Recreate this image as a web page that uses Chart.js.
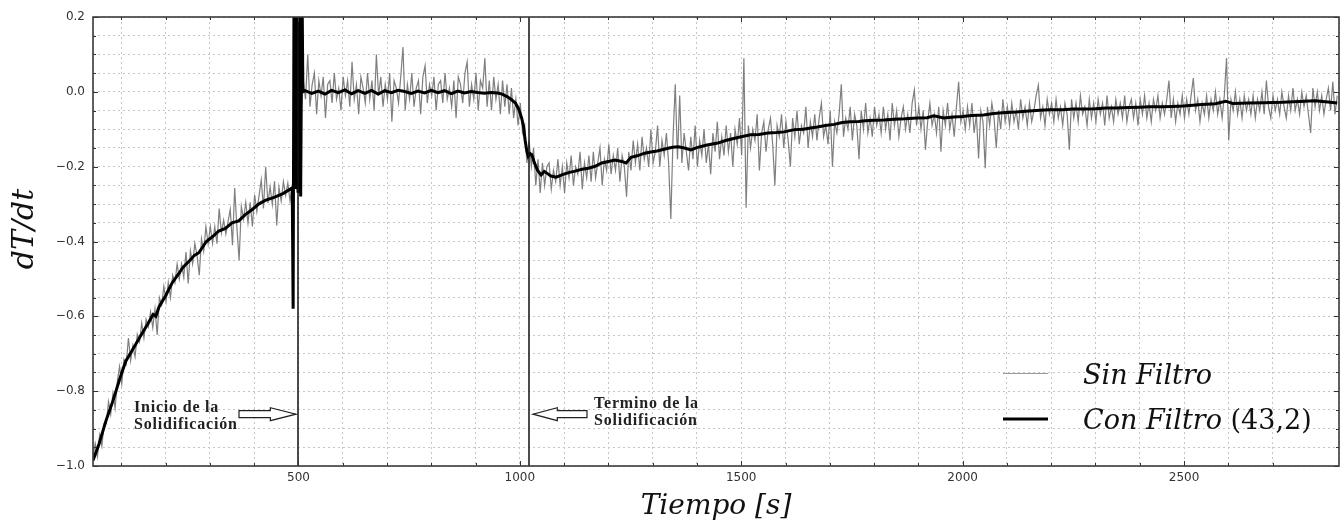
<!DOCTYPE html>
<html>
<head>
<meta charset="utf-8">
<title>dT/dt - Solidificación</title>
<script src="https://cdn.jsdelivr.net/npm/chart.js@4.4.1/dist/chart.umd.min.js"></script>
<style>
  html, body { margin: 0; padding: 0; background: #fff; }
  #grafico { display: block; }
</style>
</head>
<body>
<canvas id="grafico" width="1344" height="524"></canvas>
<script>
//--Datos-----------------------------------------------
var PASO = 5; // s entre muestras de la señal sin filtro

// Sin filtro: enfriamiento del liquido (t = 36 s ...)
var sinFiltroLiquido = [
  -0.975, -0.94, -0.975, -0.917, -0.947, -0.887, -0.887, -0.828, -0.862, -0.806,
  -0.845, -0.774, -0.734, -0.78, -0.715, -0.728, -0.658, -0.718, -0.678, -0.708,
  -0.648, -0.668, -0.618, -0.658, -0.608, -0.628, -0.588, -0.63, -0.58, -0.65,
  -0.55, -0.57, -0.52, -0.56, -0.51, -0.55, -0.49, -0.51, -0.46, -0.50,
  -0.46, -0.495, -0.428, -0.512, -0.425, -0.46, -0.405, -0.438, -0.49, -0.393,
  -0.426, -0.36, -0.406, -0.36, -0.405, -0.36, -0.406, -0.312, -0.377, -0.343,
  -0.38, -0.347, -0.314, -0.41, -0.257, -0.363, -0.45, -0.306, -0.34, -0.295,
  -0.35, -0.295, -0.36, -0.275, -0.32, -0.278, -0.235, -0.312, -0.20, -0.297,
  -0.254, -0.301, -0.239, -0.357, -0.255, -0.292, -0.24, -0.277, -0.244, -0.292,
  -0.248
];
// Sin filtro: meseta de solidificacion (t = 491 s ...)
var sinFiltroMeseta = [
  -0.24, -0.25,
  0.01, -0.05, 0.03, -0.02, 0.10, -0.04, 0.02, 0.05, -0.06, 0.03,
  -0.01, 0.04, -0.07, 0.02, 0.03, -0.03, 0.05, -0.02, 0.01, -0.05,
  0.04, -0.01, 0.03, -0.04, 0.08, -0.02, 0.02, -0.06, 0.04, 0.01,
  -0.03, 0.05, -0.02, 0.03, -0.05, 0.10, -0.01, 0.04, -0.04, 0.02,
  -0.02, 0.05, -0.08, 0.03, 0.01, -0.03, 0.04, 0.12, -0.05, 0.02,
  -0.02, 0.05, -0.04, 0.01, 0.03, -0.06, 0.04, 0.07, -0.03, 0.02,
  -0.01, 0.04, -0.05, 0.02, 0.03, -0.03, 0.05, -0.02, 0.01, -0.04,
  0.03, -0.07, 0.04, 0.02, -0.03, 0.05, 0.08, -0.04, 0.02, -0.02,
  0.05, -0.05, 0.03, 0.01, 0.09, -0.04, 0.03, -0.05, 0.04, -0.02,
  0.02, -0.06
];
// Sin filtro: caida al final de la solidificacion (t = 961 s ...)
var sinFiltroCaida = [
  0.03, -0.04, 0.02, -0.06, 0.01, -0.07, -0.02, -0.09, -0.03, -0.11,
  -0.09, -0.19, -0.13, -0.20, -0.15, -0.25, -0.18, -0.27, -0.19, -0.25,
  -0.20
];
// Sin filtro: enfriamiento del solido (t = 1066 s ...)
var sinFiltroSolido = [
  -0.19, -0.26, -0.21, -0.24, -0.18, -0.25, -0.20, -0.27, -0.19, -0.23,
  -0.17, -0.25, -0.20, -0.22, -0.16, -0.26, -0.19, -0.23, -0.17, -0.24,
  -0.16, -0.23, -0.19, -0.15, -0.25, -0.18, -0.21, -0.14, -0.22, -0.17,
  -0.21, -0.15, -0.24, -0.17, -0.20, -0.28, -0.16, -0.21, -0.13, -0.19,
  -0.14, -0.21, -0.12, -0.18, -0.15, -0.20, -0.10, -0.19, -0.16, -0.09,
  -0.20, -0.13, -0.17, -0.11, -0.19, -0.34, -0.12, 0.02, -0.18, -0.01,
  -0.19, -0.11, -0.16, -0.21, -0.12, -0.18, -0.09, -0.20, -0.13, -0.17,
  -0.10, -0.19, -0.14, -0.22, -0.11, -0.16, -0.08, -0.18, -0.12, -0.17,
  -0.09, -0.16, -0.11, -0.20, -0.10, -0.14, -0.07, -0.17, 0.09, -0.31,
  -0.09, -0.15, -0.10, -0.13, -0.06, -0.21, -0.11, -0.08, -0.16, -0.10,
  -0.07, -0.14, -0.25, -0.09, -0.12, -0.06, -0.15, -0.08, -0.13, -0.20,
  -0.07, -0.12, -0.05, -0.14, -0.09, -0.11, -0.04, -0.15, -0.08, -0.12,
  -0.06, -0.13, -0.07, -0.03, -0.12, -0.09, -0.14, -0.05, -0.20, -0.08,
  -0.11, -0.06, 0.02, -0.12, -0.07, -0.10, -0.04, -0.13, -0.06, -0.09,
  -0.18, -0.05, -0.10, -0.03, -0.11, -0.07, -0.12, -0.04, -0.09, -0.06,
  -0.11, -0.04, -0.10, -0.06, -0.13, -0.03, -0.09, -0.05, -0.12, -0.07,
  -0.04, -0.10, -0.06, -0.11, -0.03, 0.005, -0.09
];
// Sin filtro: cola (t = 1901 s ...)
var sinFiltroCola = [
  -0.04, -0.10, -0.05, -0.155, -0.08, -0.03, -0.09, -0.06, -0.11, -0.04,
  -0.16, -0.05, -0.09, -0.03, -0.10, -0.06, -0.12, -0.04, 0.027, -0.08,
  -0.05, -0.10, -0.04, -0.09, -0.03, -0.11, -0.06, -0.178, -0.05, -0.08,
  -0.204, -0.04, -0.09, -0.03, -0.07, -0.15, -0.05, -0.10, -0.02, -0.08,
  -0.04, -0.09, -0.03, -0.08, -0.05, -0.10, -0.02, -0.07, -0.04, -0.09,
  -0.03, -0.08, -0.05, -0.01, 0.018, -0.07, -0.04, -0.09, -0.02, -0.06,
  -0.03, -0.08, -0.02, -0.07, -0.04, -0.09, -0.03, -0.06, -0.155, -0.02,
  -0.07, -0.03, -0.08, -0.01, -0.06, -0.04, -0.09, -0.02, -0.07, -0.03,
  -0.08, -0.02, -0.06, -0.03, -0.09, -0.01, -0.07, -0.04, -0.08, -0.02,
  -0.06, -0.03, -0.07, -0.01, -0.08, -0.04, -0.02, -0.07, -0.03, -0.09,
  -0.02, -0.06, -0.01, -0.07, -0.03, -0.08, -0.02, -0.05, -0.01, -0.07,
  -0.03, -0.06, -0.02, 0.03, -0.07, -0.02, -0.08, -0.03, -0.06, -0.01,
  -0.07, -0.02, -0.06, -0.01, 0.037, -0.05, -0.02, -0.08, -0.03, -0.06,
  -0.01, -0.07, -0.02, -0.05, 0.00, -0.06, -0.02, -0.07, -0.01, 0.09,
  -0.13, -0.02, -0.05, 0.00, -0.06, -0.02, -0.07, -0.01, -0.05, -0.02,
  -0.06, -0.01, -0.07, -0.02, -0.05, 0.00, -0.06, 0.03, -0.04, -0.07,
  -0.01, -0.05, -0.02, -0.06, 0.00, -0.04, -0.07, -0.01, -0.05, 0.01,
  -0.05, -0.02, -0.06, 0.00, -0.04, -0.01, -0.06, -0.11, 0.01, -0.04,
  0.00, -0.05, -0.01, -0.06, -0.02, 0.01, -0.05, 0.027, -0.06, -0.01
];
var iniciosTramos = [36, 491, 961, 1066, 1901];

// Con filtro (43,2): pares [t, dT/dt]
var conFiltro = [
  [36, -0.985], [50, -0.94], [65, -0.88], [81, -0.826], [97, -0.765], [110, -0.72],
  [125, -0.69], [142, -0.655], [160, -0.62], [172, -0.595], [178, -0.60], [185, -0.575],
  [200, -0.545], [215, -0.51], [230, -0.485], [240, -0.468], [255, -0.45], [265, -0.437],
  [275, -0.43], [292, -0.40], [310, -0.383], [320, -0.372], [335, -0.365], [350, -0.35],
  [365, -0.345], [380, -0.328], [395, -0.315], [410, -0.30], [425, -0.29], [445, -0.282],
  [465, -0.272], [484, -0.258],
  [486, -0.26], [488, -0.58], [490, 0.3], [493, -0.26], [496, 0.3], [499, -0.27],
  [502, 0.3], [505, -0.28], [508, 0.3], [510, 0.0],
  [515, 0.003], [530, -0.004], [545, 0.002], [560, -0.006], [575, 0.004], [590, -0.002],
  [605, 0.005], [620, -0.005], [635, 0.003], [650, -0.004], [665, 0.004], [680, -0.006],
  [695, 0.003], [710, -0.002], [725, 0.004], [740, 0.001], [755, -0.004], [770, 0.002],
  [785, -0.003], [800, 0.004], [815, -0.002], [830, 0.003], [845, -0.005], [860, 0.002],
  [875, -0.003], [890, 0.001], [905, -0.002], [920, -0.004], [935, -0.002], [950, -0.003],
  [960, -0.006], [970, -0.012], [980, -0.02], [990, -0.03], [997, -0.045], [1004, -0.07],
  [1008, -0.09], [1012, -0.13], [1016, -0.16], [1019, -0.172], [1023, -0.165], [1027, -0.168],
  [1033, -0.19], [1040, -0.21], [1048, -0.222], [1055, -0.213], [1062, -0.218], [1070, -0.225],
  [1082, -0.228], [1095, -0.222], [1110, -0.216], [1125, -0.212], [1140, -0.207], [1155, -0.204],
  [1170, -0.199], [1185, -0.19], [1200, -0.186], [1215, -0.182], [1230, -0.186], [1240, -0.19],
  [1251, -0.175], [1265, -0.171], [1282, -0.164], [1296, -0.161], [1310, -0.158], [1330, -0.152],
  [1345, -0.148], [1357, -0.147], [1372, -0.15], [1386, -0.155], [1400, -0.149], [1420, -0.143],
  [1447, -0.137], [1465, -0.13], [1485, -0.124], [1500, -0.12], [1521, -0.115], [1540, -0.114],
  [1560, -0.11], [1580, -0.109], [1597, -0.107], [1620, -0.101], [1640, -0.10], [1660, -0.096],
  [1672, -0.094], [1690, -0.09], [1710, -0.087], [1728, -0.082], [1746, -0.08], [1765, -0.079],
  [1780, -0.077], [1800, -0.076], [1822, -0.075], [1845, -0.073], [1870, -0.072], [1897, -0.07],
  [1920, -0.069], [1935, -0.064], [1957, -0.07], [1980, -0.067], [2000, -0.066], [2020, -0.063],
  [2047, -0.062], [2070, -0.058], [2090, -0.056], [2121, -0.054], [2150, -0.051], [2175, -0.049],
  [2196, -0.048], [2225, -0.048], [2250, -0.046], [2272, -0.046], [2300, -0.045], [2325, -0.043],
  [2346, -0.043], [2375, -0.042], [2400, -0.041], [2421, -0.04], [2450, -0.04], [2475, -0.039],
  [2497, -0.038], [2520, -0.036], [2540, -0.034], [2571, -0.032], [2594, -0.025], [2610, -0.031],
  [2646, -0.03], [2680, -0.029], [2722, -0.028], [2760, -0.026], [2796, -0.024], [2825, -0.027],
  [2846, -0.03]
];

var tiemposSolidificacion = [500, 1020];
var textoInicio = ['Inicio de la', 'Solidificación'];
var textoTermino = ['Termino de la', 'Solidificación'];
var etiquetasLeyenda = ['Sin Filtro', 'Con Filtro', '(43,2)'];

//--Armado de series----------------------------
function tramo(t0, valores) {
  return valores.map(function (v, i) { return {x: t0 + i * PASO, y: v}; });
}
var puntosSinFiltro = [].concat(
  tramo(iniciosTramos[0], sinFiltroLiquido),
  tramo(iniciosTramos[1], sinFiltroMeseta),
  tramo(iniciosTramos[2], sinFiltroCaida),
  tramo(iniciosTramos[3], sinFiltroSolido),
  tramo(iniciosTramos[4], sinFiltroCola)
);
var puntosConFiltro = conFiltro.map(function (p) { return {x: p[0], y: p[1]}; });

//--Dibujos extra----------------------------
function flecha(ctx, xCola, xPunta, y) {
  var dir = xPunta > xCola ? 1 : -1;
  var xCuello = xPunta - dir * Math.abs(xPunta - xCola) * 0.45;
  ctx.beginPath();
  ctx.moveTo(xCola, y - 3.5);
  ctx.lineTo(xCuello, y - 3.5);
  ctx.lineTo(xCuello, y - 6.5);
  ctx.lineTo(xPunta, y);
  ctx.lineTo(xCuello, y + 6.5);
  ctx.lineTo(xCuello, y + 3.5);
  ctx.lineTo(xCola, y + 3.5);
  ctx.closePath();
  ctx.fillStyle = '#fff';
  ctx.fill();
  ctx.strokeStyle = '#222';
  ctx.lineWidth = 1.2;
  ctx.stroke();
}

var anotaciones = {
  id: 'anotaciones',
  afterDatasetsDraw: function (chart) {
    var ctx = chart.ctx, a = chart.chartArea, sx = chart.scales.x, sy = chart.scales.y;
    ctx.save();
    ctx.strokeStyle = '#111';
    ctx.lineWidth = 1.5;
    tiemposSolidificacion.forEach(function (t) {
      var x = Math.round(sx.getPixelForValue(t));
      ctx.beginPath();
      ctx.moveTo(x, a.top);
      ctx.lineTo(x, a.bottom);
      ctx.stroke();
    });
    var xi = Math.round(sx.getPixelForValue(tiemposSolidificacion[0]));
    var xf = Math.round(sx.getPixelForValue(tiemposSolidificacion[1]));
    var yf = sy.getPixelForValue(-0.8615);
    flecha(ctx, xi - 59, xi - 2, yf);
    flecha(ctx, xf + 58, xf + 4, yf);

    ctx.fillStyle = '#222';
    ctx.font = 'bold 16px "Liberation Serif"';
    ctx.letterSpacing = '0.8px';
    ctx.textAlign = 'left';
    ctx.textBaseline = 'alphabetic';
    ctx.fillText(textoInicio[0], xi - 164, yf - 2);
    ctx.fillText(textoInicio[1], xi - 164, yf + 15);
    ctx.fillText(textoTermino[0], xf + 65, yf - 6);
    ctx.fillText(textoTermino[1], xf + 65, yf + 11);
    ctx.restore();
  },
  afterDraw: function (chart) {
    var ctx = chart.ctx, a = chart.chartArea, sx = chart.scales.x, sy = chart.scales.y;
    ctx.save();
    // marcas internas
    ctx.strokeStyle = '#333';
    ctx.lineWidth = 1;
    sx.ticks.forEach(function (t) {
      if (t.value % 100 !== 0) return;
      var x = Math.round(sx.getPixelForValue(t.value)) + 0.5;
      var l = t.value % 500 === 0 ? 5 : 3;
      ctx.beginPath();
      ctx.moveTo(x, a.bottom); ctx.lineTo(x, a.bottom - l);
      ctx.moveTo(x, a.top); ctx.lineTo(x, a.top + l);
      ctx.stroke();
    });
    sy.ticks.forEach(function (t) {
      var y = Math.round(sy.getPixelForValue(t.value)) + 0.5;
      var k = Math.round(t.value * 20);
      var l = k % 4 === 0 ? 5 : 3;
      ctx.beginPath();
      ctx.moveTo(a.left, y); ctx.lineTo(a.left + l, y);
      ctx.moveTo(a.right, y); ctx.lineTo(a.right - l, y);
      ctx.stroke();
    });
    // marco
    ctx.strokeStyle = '#3a3a3a';
    ctx.lineWidth = 1.6;
    ctx.strokeRect(a.left, a.top, a.right - a.left, a.bottom - a.top);

    // titulos de ejes
    ctx.fillStyle = '#111';
    ctx.textAlign = 'center';
    ctx.textBaseline = 'alphabetic';
    ctx.font = 'italic 28px "DejaVu Serif"';
    ctx.fillText('Tiempo [s]', (a.left + a.right) / 2, 514);
    ctx.save();
    ctx.translate(33, 229);
    ctx.rotate(-Math.PI / 2);
    ctx.font = 'italic 30px "DejaVu Serif"';
    ctx.fillText('dT/dt', 0, 0);
    ctx.restore();

    // leyenda
    var xl = a.right - 336;
    ctx.strokeStyle = '#9a9a9a';
    ctx.lineWidth = 1;
    ctx.beginPath(); ctx.moveTo(xl, 373.5); ctx.lineTo(xl + 45, 373.5); ctx.stroke();
    ctx.strokeStyle = '#000';
    ctx.lineWidth = 3;
    ctx.beginPath(); ctx.moveTo(xl, 419); ctx.lineTo(xl + 45, 419); ctx.stroke();
    ctx.textAlign = 'left';
    ctx.font = 'italic 27px "DejaVu Serif"';
    ctx.fillText(etiquetasLeyenda[0], xl + 80, 384);
    ctx.fillText(etiquetasLeyenda[1], xl + 80, 429);
    var w = ctx.measureText(etiquetasLeyenda[1] + ' ').width;
    ctx.font = '27px "DejaVu Serif"';
    ctx.fillText(etiquetasLeyenda[2], xl + 80 + w, 429);
    ctx.restore();
  }
};

//--Grafico----------------------------
function etiquetaY(v) {
  var k = Math.round(v * 20);
  if (k % 4 !== 0) return '';
  return (k / 20).toFixed(1).replace('-', '\u2212');
}

var ctx = document.getElementById('grafico').getContext('2d');
var grafico = new Chart(ctx, {
  type: 'line',
  data: {
    datasets: [{
      label: 'Sin Filtro',
      data: puntosSinFiltro,
      borderColor: 'rgba(105,105,105,0.85)',
      borderWidth: 1.2,
      pointRadius: 0,
      tension: 0,
      order: 1
    }, {
      label: 'Con Filtro (43,2)',
      data: puntosConFiltro,
      borderColor: '#000',
      borderWidth: 3,
      pointRadius: 0,
      tension: 0,
      order: 0
    }]
  },
  options: {
    responsive: false,
    animation: false,
    events: [],
    layout: { padding: { top: 17, right: 1, left: 0, bottom: 0 } },
    plugins: { legend: { display: false }, tooltip: { enabled: false } },
    scales: {
      x: {
        type: 'linear',
        min: 36,
        max: 2850,
        border: { display: false, dash: [2, 3] },
        grid: { color: '#c6c6c6', lineWidth: 1, drawTicks: false },
        ticks: {
          stepSize: 100, autoSkip: false, maxRotation: 0, padding: 5,
          color: '#333', font: { family: 'DejaVu Sans', size: 12 },
          callback: function (v) { return v % 500 === 0 ? String(v) : ''; }
        },
        afterFit: function (s) { s.height = 58; }
      },
      y: {
        type: 'linear',
        min: -1.0,
        max: 0.2,
        border: { display: false, dash: [2, 3] },
        grid: { color: '#c6c6c6', lineWidth: 1, drawTicks: false },
        ticks: {
          stepSize: 0.05, autoSkip: false, padding: 8,
          color: '#333', font: { family: 'DejaVu Sans', size: 12 },
          callback: etiquetaY
        },
        afterFit: function (s) { s.width = 93; }
      }
    }
  },
  plugins: [anotaciones]
});
</script>
</body>
</html>
